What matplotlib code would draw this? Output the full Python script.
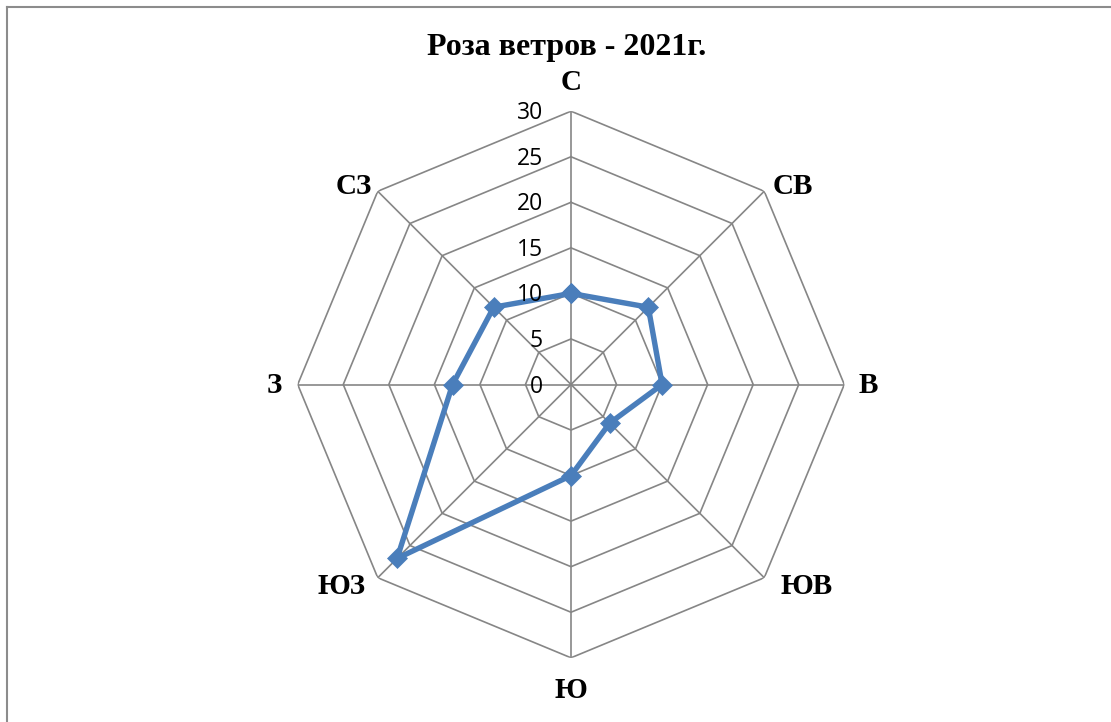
import numpy as np
import matplotlib
matplotlib.use("Agg")
import matplotlib.pyplot as plt
from matplotlib.lines import Line2D

title = "Роза ветров - 2021г."
directions = ["С", "СВ", "В", "ЮВ", "Ю", "ЮЗ", "З", "СЗ"]
values = [10, 12, 10, 6, 10, 27, 13, 12]
rticks = [0, 5, 10, 15, 20, 25, 30]

W, H = 1111, 722
fig = plt.figure(figsize=(W / 100, H / 100), dpi=100)

cx, cy, R = 571, 384.5, 273.3
ax = fig.add_axes([(cx - R) / W, (H - cy - R) / H, 2 * R / W, 2 * R / H], projection="polar")
ax.set_theta_zero_location("N")
ax.set_theta_direction(-1)
ax.set_ylim(0, rticks[-1])
ax.grid(False)
ax.set_xticks([])
ax.set_yticks([])
ax.spines["polar"].set_visible(False)
ax.patch.set_alpha(0)

n = len(directions)
theta = np.arange(n) * 2 * np.pi / n
theta_c = np.append(theta, theta[0])

grid_color = "#868686"
for r in rticks[1:]:
    ax.plot(theta_c, [r] * (n + 1), color=grid_color, lw=1.2, zorder=1)
for t in theta:
    ax.plot([t, t], [0, rticks[-1]], color=grid_color, lw=1.2, zorder=1)

vals_c = values + [values[0]]
ax.plot(theta_c, vals_c, color="#4A7EBB", lw=3.9, marker="D", markersize=10,
        markeredgewidth=0.5, markeredgecolor="#4A7EBB", zorder=3, clip_on=False)

for r in rticks:
    ax.annotate(str(r), xy=(0, r), xytext=(-28, -2), textcoords="offset pixels",
                ha="right", va="center", fontsize=16.5, family="Open Sans", zorder=4)

# label offsets (pixels) from the outer vertex of each spoke
label_dx = [0, 29, 24, 42, 0, -36, -23, -24]
label_dy = [29, 5, -1, -9, -33, -9, -1, 5]
for t, d, dx, dy in zip(theta, directions, label_dx, label_dy):
    ax.annotate(d, xy=(t, rticks[-1]), xytext=(dx, dy), textcoords="offset pixels",
                ha="center", va="center", fontsize=21, fontweight="bold",
                family="Liberation Serif", annotation_clip=False)

fig.text(567 / W, 1 - 47 / H, title, ha="center", va="center", fontsize=23,
         fontweight="bold", family="Liberation Serif")

fig.add_artist(Line2D([7 / W, 7 / W], [0, 1 - 7 / H], color="#8c8c8c", lw=1.5))
fig.add_artist(Line2D([7 / W, 1], [1 - 7 / H, 1 - 7 / H], color="#8c8c8c", lw=1.5))

fig.savefig("out.png", dpi=100)
